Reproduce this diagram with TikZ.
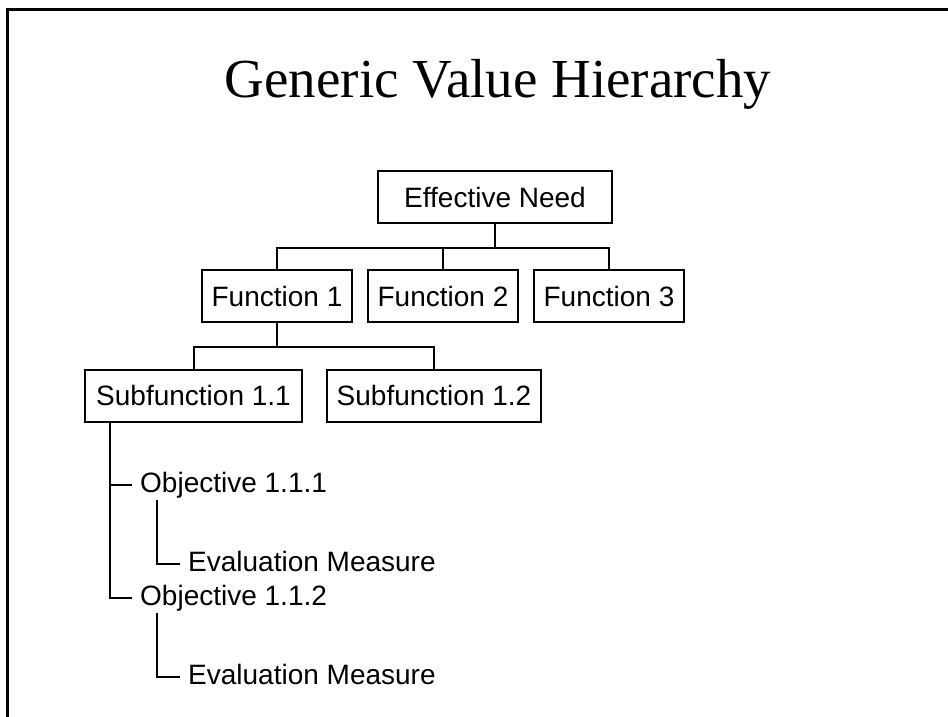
\documentclass[tikz,border=0pt]{standalone}
\usepackage{fontspec}
\setmainfont{Liberation Serif}
\setsansfont{Liberation Sans}
\tikzset{
  box/.style={draw, line width=2pt, minimum height=52pt, inner sep=0pt,
    font=\sffamily\fontsize{28}{32}\selectfont},
  leaf/.style={anchor=west, inner xsep=8pt, inner ysep=2pt,
    text height=20pt, text depth=6pt, font=\sffamily\fontsize{28}{32}\selectfont},
  link/.style={line width=2pt}
}
\begin{document}
\begin{tikzpicture}[x=1pt, y=-1pt]
        \useasboundingbox (0,0) rectangle (948,717);
        % slide frame
        \draw[line width=3pt] (7,717) -- (7,10) -- (948,10);
        \node[anchor=base, font=\fontsize{55}{60}\selectfont] (title) at (498,97) {Generic Value Hierarchy};
        % top level and functions
        \node[box, minimum width=234pt] (need) at (495,197) {Effective Need};
        \foreach \x/\n in {277/1, 443/2, 609/3} {
            \node[box, minimum width=150pt] (f\n) at (\x,296) {Function \n};
            \draw[link] (need.south) -- ++(0,24) -| (f\n.north);
        }
        % subfunctions
        \node[box, minimum width=217pt] (s11) at (193.5,395.5) {Subfunction 1.1};
        \node[box, minimum width=214pt] (s12) at (434,395.5) {Subfunction 1.2};
        \foreach \s in {s11, s12}
            \draw[link] (f1.south) -- ++(0,24) -| (\s.north);
        % objectives and measures
        \node[leaf] (o1) at (132,485) {Objective 1.1.1};
        \node[leaf] (em1) at (180,564) {Evaluation Measure};
        \node[leaf] (o2) at (132,598) {Objective 1.1.2};
        \node[leaf] (em2) at (180,677) {Evaluation Measure};
        \draw[link] ([xshift=26pt]s11.south west) |- (o1.west);
        \draw[link] ([xshift=26pt]s11.south west) |- (o2.west);
        \draw[link] ([xshift=25pt]o1.south west) |- (em1.west);
        \draw[link] ([xshift=25pt]o2.south west) |- (em2.west);
\end{tikzpicture}
\end{document}
